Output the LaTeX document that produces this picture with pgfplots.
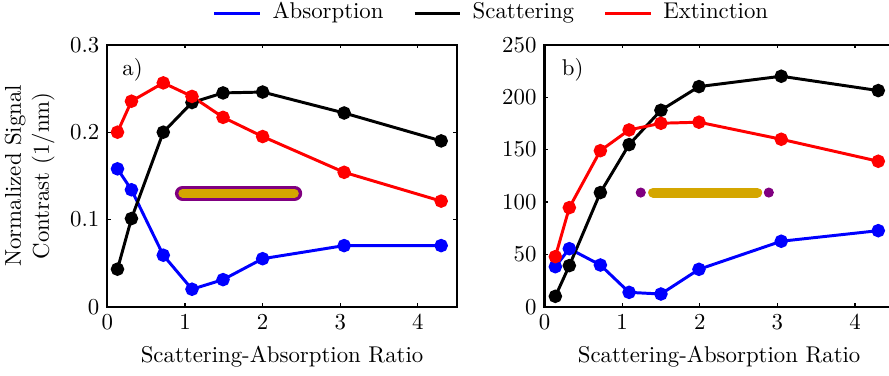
\documentclass[border=0pt]{standalone}
\usepackage{pgfplots}
\pgfplotsset{compat=1.18}
\definecolor{rodgold}{HTML}{D4A600}
\definecolor{rodpurple}{HTML}{800080}
\newcommand{\ff}{\fontsize{10}{12}\selectfont}
\begin{document}
\begin{tikzpicture}[font=\ff]
\pgfplotsset{
  myax/.style={
    scale only axis, width=153.2pt, height=114.8pt,
    xmin=0, xmax=4.5, ymin=0,
    xtick={0,1,2,3,4},
    tick align=inside, major tick length=1.5pt,
    axis line style={line width=0.9pt},
    every tick/.style={line width=0.5pt, black},
    tick label style={font=\ff},
    label style={font=\ff},
    xlabel={Scattering-Absorption Ratio},
    xlabel style={yshift=-0.5pt},
    clip=false,
  },
  ser/.style={line width=1.3pt, mark=*, mark size=2.3pt},
}
\begin{axis}[myax, name=left, ymax=0.3, ytick={0,0.1,0.2,0.3},
  yticklabels={0,0.1,0.2,0.3},
  ylabel={Normalized Signal\\Contrast (1/nm)},
  ylabel style={align=center, yshift=0pt, font=\fontsize{10}{12.3}\selectfont},
  legend columns=3,
  legend style={draw=none, fill=none, inner sep=0pt, at={(1.097,1.166)}, anchor=north, font=\ff,
    nodes={inner sep=0pt, anchor=base west},
    /tikz/every odd column/.append style={column sep=4.8pt},
    /tikz/every even column/.append style={column sep=13pt}},
  legend image code/.code={\draw[#1, mark=none] (0pt,0.5ex) -- (20pt,0.5ex);},
]
\addplot[ser, blue] coordinates {(0.13,0.158)(0.31,0.134)(0.72,0.059)(1.09,0.020)(1.49,0.031)(2.0,0.055)(3.05,0.070)(4.3,0.070)};
\addlegendentry{Absorption}
\addplot[ser, black] coordinates {(0.13,0.043)(0.31,0.101)(0.72,0.200)(1.09,0.234)(1.49,0.245)(2.0,0.246)(3.05,0.222)(4.3,0.190)};
\addlegendentry{Scattering}
\addplot[ser, red] coordinates {(0.13,0.200)(0.31,0.2355)(0.72,0.2565)(1.09,0.241)(1.49,0.217)(2.0,0.195)(3.05,0.154)(4.3,0.121)};
\addlegendentry{Extinction}
\addplot[rodpurple, line width=6.8pt, line cap=round, forget plot] coordinates {(0.97,0.130)(2.41,0.130)};
\addplot[rodgold, line width=3.8pt, line cap=round, forget plot] coordinates {(0.97,0.130)(2.41,0.130)};
\node[anchor=west] at (axis cs:0.09,0.271) {a)};
\end{axis}
\begin{axis}[myax, name=right, at={(191.7pt,0pt)}, ymax=250, ytick={0,50,100,150,200,250}]
\addplot[ser, blue] coordinates {(0.14,38.2)(0.32,55.4)(0.72,39.8)(1.09,13.7)(1.50,12.1)(1.99,35.7)(3.05,62.5)(4.3,72.6)};
\addplot[ser, black] coordinates {(0.14,9.9)(0.32,39.2)(0.72,109)(1.09,154.8)(1.50,187.6)(1.99,210.2)(3.05,220.1)(4.3,206.4)};
\addplot[ser, red] coordinates {(0.14,47.8)(0.32,94.6)(0.72,149)(1.09,168.8)(1.50,175.2)(1.99,176.2)(3.05,159.9)(4.3,138.9)};
\addplot[rodgold, line width=4.4pt, line cap=round] coordinates {(1.40,109)(2.74,109)};
\addplot[only marks, mark=*, mark size=2pt, rodpurple] coordinates {(1.24,109)(2.89,109)};
\node[anchor=west] at (axis cs:0.12,226) {b)};
\end{axis}
\pgfresetboundingbox
\path (left.south west) ++(-47.1pt,-30pt) rectangle ++(389.9pt,164.5pt);
\end{tikzpicture}
\end{document}
